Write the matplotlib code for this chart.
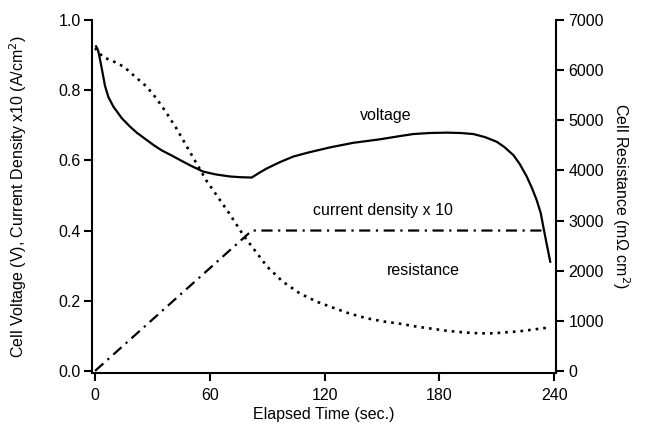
import matplotlib
matplotlib.use("Agg")
import matplotlib.pyplot as plt

plt.rcParams['font.family'] = ['Liberation Sans', 'DejaVu Sans']

# voltage (V)
t_volt = [0.5, 1.5, 2.5, 3.5, 5.2, 7, 9.6, 12, 14, 18.3, 22, 27, 31, 35, 40, 44.4, 50, 56.5,
          63, 70.6, 76, 81.9, 86, 89.8, 96.7, 103.7, 112, 122.9, 135, 149, 158, 166.4,
          175, 183.9, 191, 197.8, 204, 210, 214, 218.7, 222, 225.7, 228.5, 230.9, 233,
          234.4, 236, 238]
volt = [0.925, 0.915, 0.89, 0.862, 0.812, 0.78, 0.753, 0.735, 0.72, 0.696, 0.678, 0.658,
        0.642, 0.628, 0.614, 0.601, 0.585, 0.568, 0.560, 0.554, 0.552, 0.551, 0.565, 0.577,
        0.595, 0.611, 0.623, 0.637, 0.650, 0.660, 0.668, 0.675, 0.678, 0.679, 0.678, 0.675,
        0.666, 0.653, 0.638, 0.615, 0.590, 0.554, 0.520, 0.487, 0.45, 0.41, 0.365, 0.311]

# current density x10 (A/cm2)
t_cur = [0, 82, 236]
cur = [0.0, 0.4, 0.4]

# cell resistance (mOhm cm2)
t_res = [0, 4, 10, 15, 20, 27, 32, 37.5, 43, 48, 53, 58, 64, 70, 78, 84, 90, 98, 107, 116,
         125, 133, 142, 151, 160, 167, 175, 183, 190, 196, 201, 208, 215, 222, 228, 233, 238]
res = [6440, 6265, 6167, 6069, 5901, 5670, 5439, 5138, 4809, 4473, 4144, 3808, 3479, 3150,
       2681, 2380, 2079, 1785, 1547, 1379, 1253, 1145, 1050, 985, 938, 890, 847, 805, 777,
       760, 749, 750, 770, 790, 819, 845, 868]

fig = plt.figure(figsize=(6.48, 4.34), dpi=100)
ax = fig.add_axes([92/648, 61/434, 464/648, 353/434])
ax2 = ax.twinx()

ax.plot(t_volt, volt, color='black', lw=1.6)
ax.plot(t_cur, cur, color='black', lw=1.6, linestyle=(0, (5, 2.5, 1, 2.5)))
ax2.plot(t_res, res, color='black', lw=1.9, linestyle=(0, (1, 1.9)))

ax.set_xlim(-1.6, 241)
ax.set_ylim(-0.006, 1.0)
ax2.set_ylim(-42, 7000)

ax.set_xticks([0, 60, 120, 180, 240])
ax.set_yticks([0.0, 0.2, 0.4, 0.6, 0.8, 1.0])
ax.set_yticklabels(['0.0', '0.2', '0.4', '0.6', '0.8', '1.0'])
ax2.set_yticks(range(0, 7001, 1000))

for a in (ax, ax2):
    a.spines['top'].set_visible(False)
    for s in a.spines.values():
        s.set_linewidth(1.5)
    a.tick_params(direction='out', length=6, width=1.5, labelsize=11.5, pad=2)
ax.tick_params(axis='x', pad=5)
ax2.tick_params(axis='y', pad=3)
ax.spines['right'].set_visible(False)
ax2.spines['left'].set_visible(False)
ax2.spines['bottom'].set_visible(False)

ax.set_xlabel('Elapsed Time (sec.)', fontsize=11.5, labelpad=3)
ax.set_ylabel('Cell Voltage (V), Current Density x10 (A/cm$^2$)', fontsize=11.5, labelpad=21)
ax2.set_ylabel('Cell Resistance (m\u03a9 cm$^2$)', fontsize=11.5, rotation=270, labelpad=20)

ax.text(138.5, 0.729, 'voltage', fontsize=11.5, ha='left', va='center')
ax.text(114, 0.456, 'current density x 10', fontsize=11.5, ha='left', va='center')
ax.text(152.5, 0.285, 'resistance', fontsize=11.5, ha='left', va='center')

fig.savefig('out.png', dpi=100)
